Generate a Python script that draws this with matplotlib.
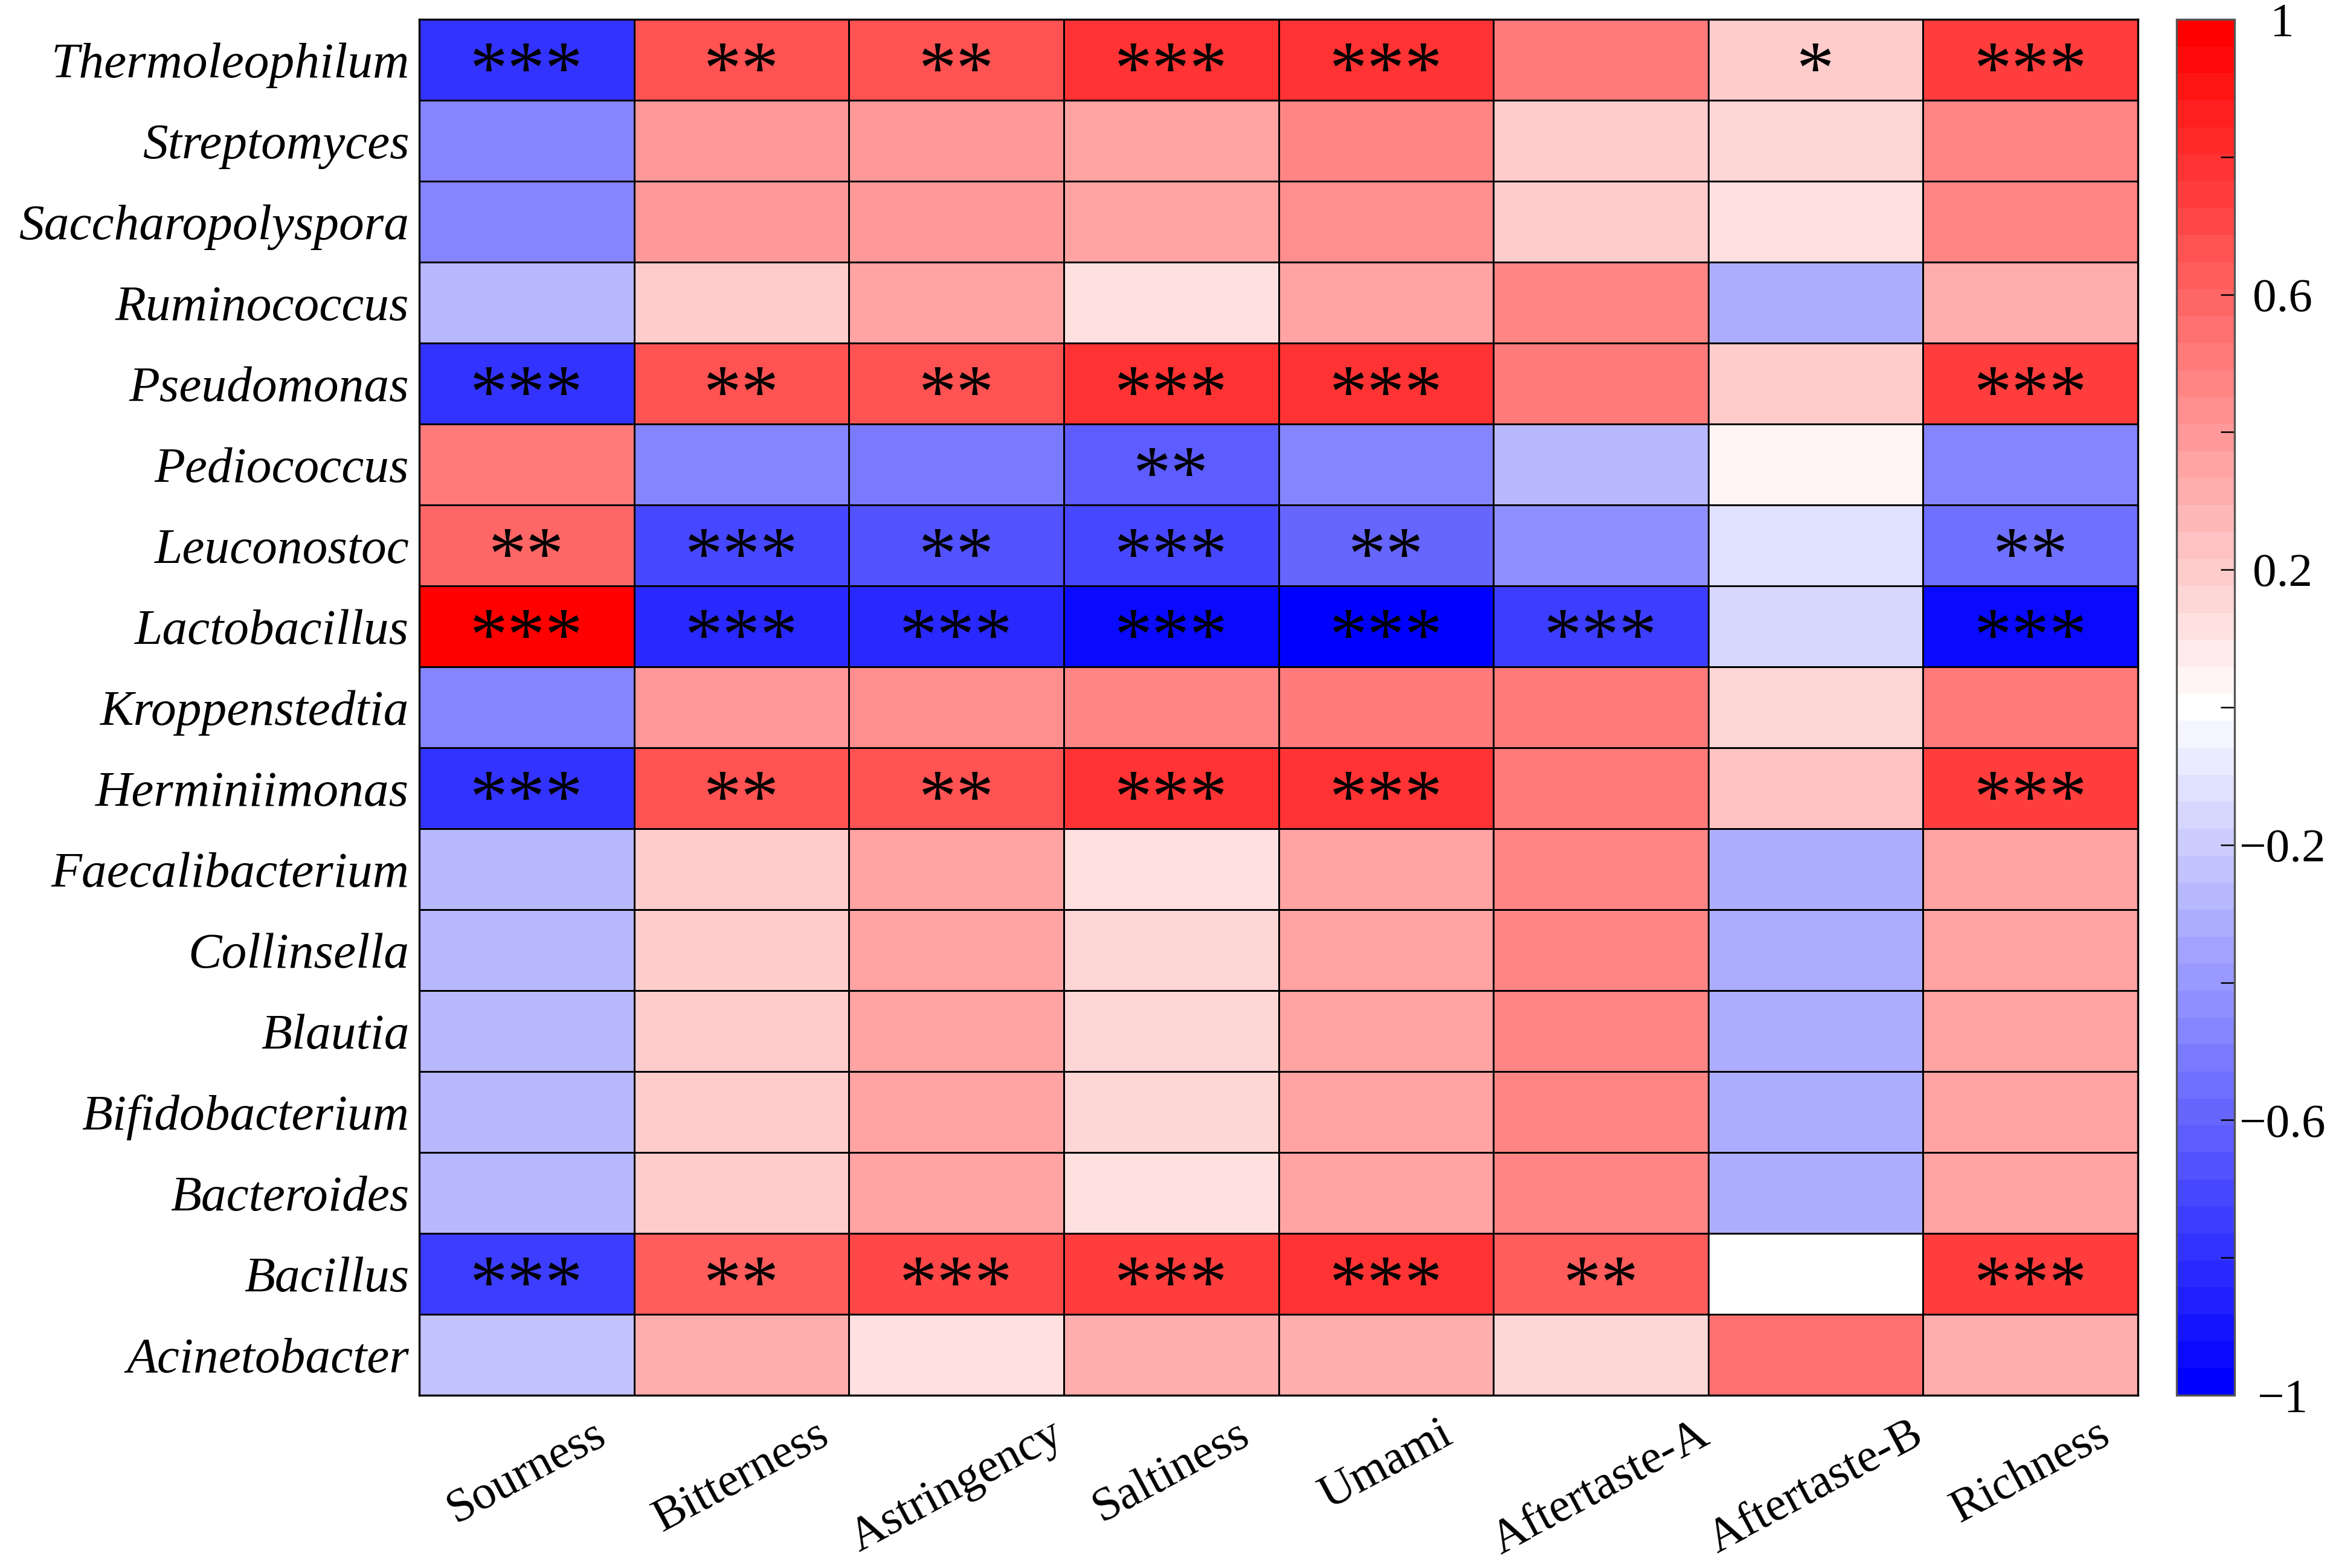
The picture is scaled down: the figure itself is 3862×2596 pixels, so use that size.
# Heatmap of genus vs. taste correlations, significance stars on top.
# Writes out.png

import matplotlib.pyplot as plt
import numpy as np
from matplotlib.colors import LinearSegmentedColormap

plt.rcParams["font.family"] = ["Liberation Serif", "DejaVu Serif"]

genera = [
    "Thermoleophilum", "Streptomyces", "Saccharopolyspora", "Ruminococcus",
    "Pseudomonas", "Pediococcus", "Leuconostoc", "Lactobacillus",
    "Kroppenstedtia", "Herminiimonas", "Faecalibacterium", "Collinsella",
    "Blautia", "Bifidobacterium", "Bacteroides", "Bacillus", "Acinetobacter",
]
tastes = ["Sourness", "Bitterness", "Astringency", "Saltiness", "Umami",
          "Aftertaste-A", "Aftertaste-B", "Richness"]

# correlation per taste (rows follow genera order)
sourness = [-0.77, -0.47, -0.47, -0.28, -0.77, 0.50, 0.60, 1.00, -0.48,
            -0.77, -0.28, -0.28, -0.28, -0.28, -0.28, -0.76, -0.25]
bitterness = [0.65, 0.40, 0.40, 0.21, 0.65, -0.47, -0.70, -0.81, 0.40,
              0.65, 0.21, 0.21, 0.21, 0.21, 0.21, 0.63, 0.31]
astringency = [0.65, 0.40, 0.40, 0.37, 0.65, -0.50, -0.67, -0.83, 0.42,
               0.65, 0.37, 0.37, 0.37, 0.37, 0.37, 0.69, 0.12]
saltiness = [0.80, 0.35, 0.35, 0.12, 0.80, -0.64, -0.69, -0.95, 0.49,
             0.78, 0.12, 0.15, 0.15, 0.15, 0.12, 0.73, 0.32]
umami = [0.78, 0.47, 0.45, 0.35, 0.78, -0.47, -0.57, -0.97, 0.52,
         0.77, 0.35, 0.35, 0.35, 0.35, 0.35, 0.77, 0.33]
aftertaste_a = [0.50, 0.18, 0.18, 0.47, 0.50, -0.28, -0.42, -0.73, 0.50,
                0.50, 0.47, 0.46, 0.46, 0.46, 0.46, 0.62, 0.15]
aftertaste_b = [0.18, 0.14, 0.13, -0.33, 0.20, 0.04, -0.10, -0.14, 0.16,
                0.22, -0.33, -0.33, -0.33, -0.33, -0.33, 0.00, 0.53]
richness = [0.75, 0.48, 0.47, 0.33, 0.76, -0.46, -0.56, -0.95, 0.50,
            0.76, 0.35, 0.36, 0.36, 0.36, 0.36, 0.74, 0.30]

# significance marks per taste
sig_sourness = ["***", "", "", "", "***", "", "**", "***", "", "***",
                "", "", "", "", "", "***", ""]
sig_bitterness = ["**", "", "", "", "**", "", "***", "***", "", "**",
                  "", "", "", "", "", "**", ""]
sig_astringency = ["**", "", "", "", "**", "", "**", "***", "", "**",
                   "", "", "", "", "", "***", ""]
sig_saltiness = ["***", "", "", "", "***", "**", "***", "***", "", "***",
                 "", "", "", "", "", "***", ""]
sig_umami = ["***", "", "", "", "***", "", "**", "***", "", "***",
             "", "", "", "", "", "***", ""]
sig_aftertaste_a = ["", "", "", "", "", "", "", "***", "", "",
                    "", "", "", "", "", "**", ""]
sig_aftertaste_b = ["*", "", "", "", "", "", "", "", "", "",
                    "", "", "", "", "", "", ""]
sig_richness = ["***", "", "", "", "***", "", "**", "***", "", "***",
                "", "", "", "", "", "***", ""]

vals = np.column_stack([sourness, bitterness, astringency, saltiness,
                        umami, aftertaste_a, aftertaste_b, richness])
sigs = list(zip(sig_sourness, sig_bitterness, sig_astringency, sig_saltiness,
                sig_umami, sig_aftertaste_a, sig_aftertaste_b, sig_richness))

cmap = LinearSegmentedColormap.from_list(
    "bwr_steps", ["#0000ff", "#ffffff", "#ff0000"], N=51)

W, H = 3862, 2596
fig = plt.figure(figsize=(W / 300, H / 300), dpi=300)
ax = fig.add_axes([694 / W, 1 - 2310 / H, (3539 - 694) / W, (2310 - 32) / H])
cax = fig.add_axes([3603 / W, 1 - 2310 / H, (3699 - 3603) / W, (2310 - 32) / H])

mesh = ax.pcolormesh(vals, cmap=cmap, vmin=-1, vmax=1,
                     edgecolors="black", linewidth=0.6)
ax.set_xlim(0, len(tastes))
ax.set_ylim(len(genera), 0)

# stars (asterisks sit high in the em box, so nudge them down)
for i, row in enumerate(sigs):
    for j, s in enumerate(row):
        if s:
            ax.text(j + 0.5, i + 0.69, s, ha="center", va="center",
                    fontsize=30, color="black")

ax.set_yticks(np.arange(len(genera)) + 0.5)
ax.set_yticklabels(genera, fontsize=20, style="italic")
ax.set_xticks(np.arange(len(tastes)) + 0.5)
ax.set_xticklabels(tastes, fontsize=19, rotation=28, ha="center", va="top")
ax.tick_params(axis="both", length=0)
ax.tick_params(axis="y", pad=4)
ax.tick_params(axis="x", pad=7)
for sp in ax.spines.values():
    sp.set_linewidth(0.8)

cb = fig.colorbar(mesh, cax=cax)
ticks = np.round(np.arange(-1, 1.01, 0.2), 1)
cb.set_ticks(ticks)
labels = {1.0: "1", 0.6: "0.6", 0.2: "0.2",
          -0.2: "\u22120.2", -0.6: "\u22120.6", -1.0: "\u22121"}
cb.set_ticklabels([labels.get(t, "") for t in ticks])
cax.tick_params(direction="in", length=5.5, width=0.6, labelsize=19, pad=19)
for lbl in cax.get_yticklabels():
    lbl.set_horizontalalignment("center")
cb.outline.set_linewidth(0.8)
cb.outline.set_edgecolor("#555555")

fig.savefig("out.png", dpi=300)
